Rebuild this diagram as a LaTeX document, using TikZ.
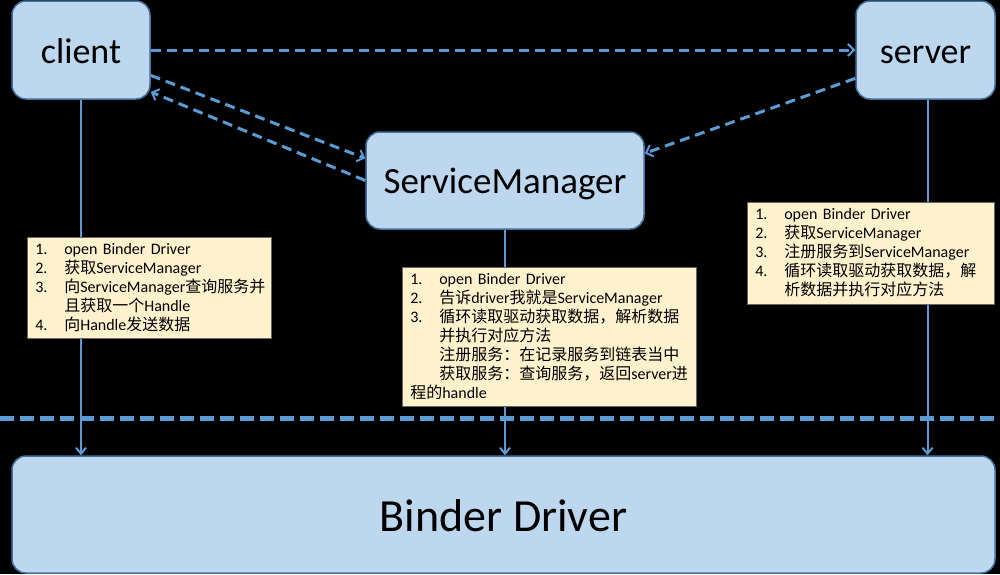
\documentclass[tikz,border=0pt]{standalone}
\usepackage{fontspec}
\setmainfont{Carlito}
\newfontfamily\cjk{Noto Sans CJK SC}
\usetikzlibrary{arrows.meta,positioning}
\definecolor{boxfill}{HTML}{BDD7EE}
\definecolor{boxline}{HTML}{41719C}
\definecolor{arr}{HTML}{5B9BD5}
\definecolor{notefill}{HTML}{FFF2CC}
\newcommand{\itm}[2]{\makebox[29pt][l]{#1}#2}
\newcommand{\ind}{\hspace*{29pt}}
\newcommand{\zh}[1]{{\cjk #1}}

\begin{document}
\begin{tikzpicture}[x=1pt,y=-1pt,
  box/.style={draw=boxline,line width=1.5pt,fill=boxfill,rounded corners=14pt,inner sep=0pt,text depth=0pt},
  note/.style={draw=black!60,line width=0.6pt,fill=notefill,anchor=north west,align=left,
    inner xsep=8pt,inner ysep=6.5pt,font=\fontsize{16}{19}\selectfont},
  dsh/.style={arr,line width=3pt,dash pattern=on 10pt off 6pt,
    -{Straight Barb[length=6pt,width=12pt,line width=2pt]}},
  vl/.style={arr,line width=2pt,-{Straight Barb[length=6pt,width=10pt]}}]
  \fill[black] (0,0) rectangle (1000,574);
  \useasboundingbox (0,0) rectangle (1000,574);
  \node[box,minimum width=138pt,minimum height=98pt,text height=26pt,font=\fontsize{36}{40}\selectfont] (cl) at (81,50) {client};
  \node[box,minimum width=139pt,minimum height=98pt,text height=26pt,font=\fontsize{36}{40}\selectfont] (sv) at (925.5,50) {server};
  \node[box,minimum width=278pt,minimum height=97pt,text height=26pt,font=\fontsize{37}{40}\selectfont] (sm) at (505,180.5) {ServiceManager};
  \node[box,minimum width=983pt,minimum height=117pt,text height=33pt,font=\fontsize{46}{50}\selectfont] (dr) at (503.5,514.5) {Binder Driver};
  \coordinate (sl) at (0,418); \coordinate (sr) at (1000,418);
  \draw[dsh] (cl.east) -- (sv.west);
  \draw[dsh] (cl.-20) -- (sm.171);
  \draw[dsh] (sm.west) -- (cl.-31);
  \draw[dsh] (sv.202) -- (sm.11);
  \draw[vl] (cl.south) -- (cl.south |- dr.north);
  \draw[vl] (sm.south) -- (sm.south |- dr.north);
  \draw[vl] ([xshift=2pt]sv.south) -- ([xshift=2pt]sv.south |- dr.north);
  \draw[arr,line width=5pt,dash pattern=on 14pt off 6pt] (sl) -- (sr);
  \node[note,text width=228pt] (nc) at (27,237) {\itm{1.}{open Binder Driver}\\
    \itm{2.}{\zh{获取}ServiceManager}\\
    \itm{3.}{\zh{向}ServiceManager\zh{查询服务并}}\\
    \ind\zh{且获取一个}Handle\\
    \itm{4.}{\zh{向}Handle\zh{发送数据}}};
  \node[note,text width=278pt] (nm) at (402,267) {\itm{1.}{open Binder Driver}\\
    \itm{2.}{\zh{告诉}driver\zh{我就是}ServiceManager}\\
    \itm{3.}{\zh{循环读取驱动获取数据，解析数据}}\\
    \ind\zh{并执行对应方法}\\
    \ind\zh{注册服务：在记录服务到链表当中}\\
    \ind\zh{获取服务：查询服务，返回}server\zh{进}\\
    \zh{程的}handle};
  \node[note,text width=231pt] (ns) at (747,202) {\itm{1.}{open Binder Driver}\\
    \itm{2.}{\zh{获取}ServiceManager}\\
    \itm{3.}{\zh{注册服务到}ServiceManager}\\
    \itm{4.}{\zh{循环读取驱动获取数据，解}}\\
    \ind\zh{析数据并执行对应方法}};
\end{tikzpicture}
\end{document}
